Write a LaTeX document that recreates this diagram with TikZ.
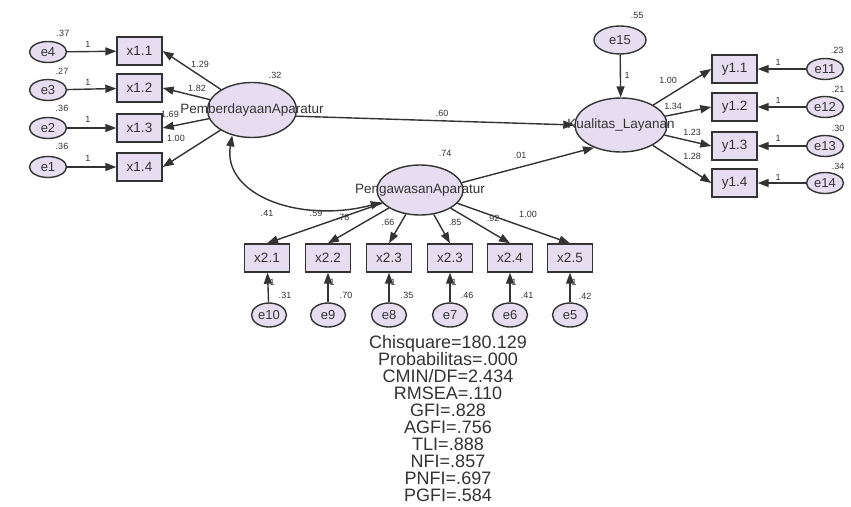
\documentclass[tikz,border=0pt]{standalone}
\usepackage{fontspec}
\setmainfont{Liberation Sans}
\usetikzlibrary{arrows.meta,shapes.geometric}
\definecolor{nfill}{HTML}{E6DEF0}
\definecolor{nline}{HTML}{333333}
\definecolor{ntext}{HTML}{333333}
\tikzset{
  lat/.style={ellipse, draw=nline, fill=nfill, line width=1.4pt, inner sep=0pt, minimum width=90pt, minimum height=54pt},
  latP/.style={lat, minimum width=89pt, minimum height=55pt},
  latG/.style={lat, minimum width=86pt, minimum height=50pt},
  latK/.style={lat, minimum width=92pt, minimum height=54pt},
  errs/.style={ellipse, draw=nline, fill=nfill, line width=1.4pt, inner sep=0pt, text=ntext, font=\fontsize{13}{13}\selectfont},
  errh/.style={errs, minimum width=37pt, minimum height=21pt},
  errv/.style={errs, minimum width=35pt, minimum height=24pt},
  errt/.style={errs, minimum width=52pt, minimum height=28pt},
  obs/.style={rectangle, draw=nline, fill=nfill, line width=1.4pt, inner sep=0pt, minimum width=45pt, minimum height=28pt, text=ntext, font=\fontsize{13.5}{14}\selectfont},
  lbl/.style={text=ntext, inner sep=0pt, font=\fontsize{13.5}{14}\selectfont},
  num/.style={text=ntext, inner sep=0pt, font=\fontsize{9}{9}\selectfont},
  arr/.style={-{Triangle[length=11pt,width=8pt]}, line width=1.4pt, draw=nline},
  darr/.style={{Triangle[length=11pt,width=8pt]}-{Triangle[length=11pt,width=8pt]}, line width=1.4pt, draw=nline},
  stats/.style={text=ntext, inner sep=0pt, align=center, font=\fontsize{18}{17}\selectfont}
}
\begin{document}
\begin{tikzpicture}[x=1pt,y=-1pt]
\useasboundingbox (0,0) rectangle (851,506);
\fill[white] (0,0) rectangle (851,506);

% latent variables
\node[latP, label={[lbl,name=Ptxt]center:PemberdayaanAparatur}] (P) at (252,110) {};
\node[latG, label={[lbl,name=Gtxt]center:PengawasanAparatur}] (G) at (420,190) {};
\node[latK, label={[lbl,name=Ktxt]center:Kualitas\_Layanan}] (K) at (621,125) {};

% left indicators
\node[obs] (x11) at (139.5,51) {x1.1};
\node[obs] (x12) at (139.5,88) {x1.2};
\node[obs] (x13) at (139.5,128) {x1.3};
\node[obs] (x14) at (139.5,167) {x1.4};
\node[errh] (e4) at (48,52) {e4};
\node[errh] (e3) at (48,90) {e3};
\node[errh] (e2) at (48,128) {e2};
\node[errh] (e1) at (48,167) {e1};

% right indicators
\node[obs] (y11) at (734.5,69) {y1.1};
\node[obs] (y12) at (734.5,107) {y1.2};
\node[obs] (y13) at (734.5,146) {y1.3};
\node[obs] (y14) at (734.5,183) {y1.4};
\node[errh] (e11) at (825,69) {e11};
\node[errh] (e12) at (825,107) {e12};
\node[errh] (e13) at (825,146) {e13};
\node[errh] (e14) at (825,183) {e14};
\node[errt] (e15) at (620,40) {e15};

% bottom indicators
\node[obs] (x21) at (267,258) {x2.1};
\node[obs] (x22) at (328,258) {x2.2};
\node[obs] (x23) at (389,258) {x2.3};
\node[obs] (x23b) at (450,258) {x2.3};
\node[obs] (x24) at (510,258) {x2.4};
\node[obs] (x25) at (570,258) {x2.5};
\node[errv] (e10) at (269,315) {e10};
\node[errv] (e9) at (328,315) {e9};
\node[errv] (e8) at (389,315) {e8};
\node[errv] (e7) at (450,315) {e7};
\node[errv] (e6) at (510,315) {e6};
\node[errv] (e5) at (570,315) {e5};

% arrows left
\foreach \e/\x in {e4/x11,e3/x12,e2/x13,e1/x14}{\draw[arr] (\e) -- (\x);}
\foreach \x in {x11,x12,x13,x14}{\draw[arr] (P) -- (\x.east);}
% arrows right
\foreach \e/\y in {e11/y11,e12/y12,e13/y13,e14/y14}{\draw[arr] (\e) -- (\y);}
\foreach \y in {y11,y12,y13,y14}{\draw[arr] (K) -- (\y.west);}
\draw[arr] (e15) -- (K);
% arrows bottom
\foreach \e/\x in {e10/x21,e9/x22,e8/x23,e7/x23b,e6/x24,e5/x25}{\draw[arr] (\e) -- (\x);}
\foreach \x in {x21,x22,x23,x23b,x24,x25}{\draw[arr] (G) -- (\x.north);}
% structural
\draw[arr] (P.-8) -- (K.west);
\draw[arr] (G.10) -- (K.-140);
\draw[darr] (P.-128) .. controls (222,195) and (300,224) .. (G.-162);

% left labels
\node[num] (v4) at (63,33) {.37};
\node[num] (v3) at (62,71) {.27};
\node[num] (v2) at (62,108) {.36};
\node[num] (v1) at (62,146) {.36};
\node[num] (o4) at (88,44) {1};
\node[num] (o3) at (88,82) {1};
\node[num] (o2) at (88,119) {1};
\node[num] (o1) at (88,158) {1};
\node[num] (l11) at (200,64) {1.29};
\node[num] (l12) at (197,88) {1.82};
\node[num] (l13) at (170,114) {1.69};
\node[num] (l14) at (176,138) {1.00};
\node[num] (vP) at (275,75) {.32};

% right labels
\node[num] (v15) at (637,15) {.55};
\node[num] (o15) at (627,75) {1};
\node[num] (v11) at (837,50) {.23};
\node[num] (v12) at (838,89) {.21};
\node[num] (v13) at (838,128) {.30};
\node[num] (v14) at (838,166) {.34};
\node[num] (o11) at (778,62) {1};
\node[num] (o12) at (778,100) {1};
\node[num] (o13) at (778,138) {1};
\node[num] (o14) at (778,177) {1};
\node[num] (m11) at (668,80) {1.00};
\node[num] (m12) at (673,106) {1.34};
\node[num] (m13) at (692,132) {1.23};
\node[num] (m14) at (692,156) {1.28};

% middle labels
\node[num] (bPK) at (442,113) {.60};
\node[num] (bGK) at (520,155) {.01};
\node[num] (vG) at (445,153) {.74};
\node[num] (cPG) at (267,213) {.41};
\node[num] (g1) at (316,213) {.59};
\node[num] (g2) at (343,217) {.78};
\node[num] (g3) at (388,222) {.66};
\node[num] (g4) at (455,222) {.85};
\node[num] (g5) at (493,218) {.92};
\node[num] (g6) at (528,214) {1.00};
\node[num] (q10) at (272,282) {1};
\node[num] (q9) at (332,282) {1};
\node[num] (q8) at (393,282) {1};
\node[num] (q7) at (454,282) {1};
\node[num] (q6) at (514,282) {1};
\node[num] (q5) at (574,282) {1};
\node[num] (w10) at (285,295) {.31};
\node[num] (w9) at (346,295) {.70};
\node[num] (w8) at (407,295) {.35};
\node[num] (w7) at (467,295) {.46};
\node[num] (w6) at (527,295) {.41};
\node[num] (w5) at (585,296) {.42};

% fit statistics
\node[stats] (fit) at (448,419) {Chisquare=180.129\\Probabilitas=.000\\CMIN/DF=2.434\\RMSEA=.110\\GFI=.828\\AGFI=.756\\TLI=.888\\NFI=.857\\PNFI=.697\\PGFI=.584};
\end{tikzpicture}
\end{document}
